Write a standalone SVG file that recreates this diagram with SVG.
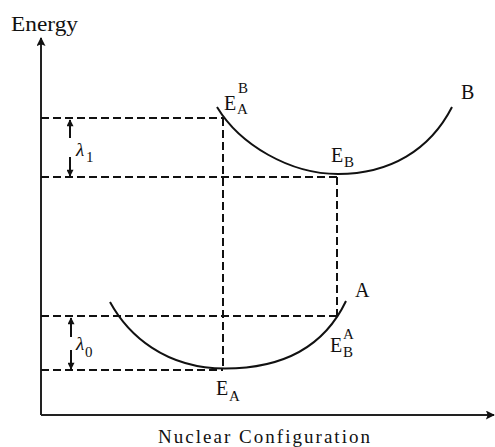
<svg xmlns="http://www.w3.org/2000/svg" width="495" height="447" viewBox="0 0 495 447">
<defs>
<style>
.lbl{font-size:20px}
.sub{font-size:15px}
.ax{stroke:#222;stroke-width:2;fill:none}
.dash{stroke:#111;stroke-width:2;stroke-dasharray:8 4;fill:none}
.curve{stroke:#111;stroke-width:2;fill:none}
.dim{stroke:#111;stroke-width:2;fill:none}
</style>
<marker id="ah" viewBox="0 0 10 10" refX="9" refY="5" markerWidth="6" markerHeight="4.5" orient="auto" markerUnits="strokeWidth"><path d="M0,0 L10,5 L0,10 L2,5 z" fill="#111"/></marker>
<marker id="ahs" viewBox="0 0 10 10" refX="9" refY="5" markerWidth="4" markerHeight="3.5" orient="auto" markerUnits="strokeWidth"><path d="M0,0 L10,5 L0,10 z" fill="#111"/></marker>
</defs>
<rect width="495" height="447" fill="#fff"/>
<g font-family="Liberation Serif, Times New Roman, DejaVu Serif, serif" fill="#111">
<g id="axes">
<line class="ax" x1="41" y1="415" x2="41" y2="38" marker-end="url(#ah)"/>
<line class="ax" x1="41" y1="415" x2="494" y2="415" marker-end="url(#ah)"/>
<text x="11" y="31" font-size="21" textLength="67" lengthAdjust="spacingAndGlyphs">Energy</text>
<text x="158" y="443" font-size="19" textLength="212" lengthAdjust="spacing">Nuclear Configuration</text>
</g>
<g id="connectors">
<line class="dash" x1="41" y1="118" x2="223" y2="118"/>
<line class="dash" x1="41" y1="177" x2="337" y2="177"/>
<line class="dash" x1="41" y1="316" x2="337" y2="316"/>
<line class="dash" x1="41" y1="370" x2="223" y2="370"/>
<line class="dash" x1="223" y1="118" x2="223" y2="370"/>
<line class="dash" x1="337" y1="177" x2="337" y2="316"/>
<line class="dim" x1="70" y1="138" x2="70" y2="120" marker-end="url(#ahs)"/>
<line class="dim" x1="70" y1="157" x2="70" y2="176" marker-end="url(#ahs)"/>
<line class="dim" x1="71" y1="337" x2="71" y2="318" marker-end="url(#ahs)"/>
<line class="dim" x1="71" y1="350" x2="71" y2="369" marker-end="url(#ahs)"/>
</g>
<g id="curveB">
<path class="curve" d="M217,107 C240,145 290,174 338,174 C390,174 430,150 452,107"/>
<text class="lbl" x="461" y="99">B</text>
</g>
<g id="curveA">
<path class="curve" d="M110,302 C128,335 165,368.5 225,368.5 C285,368.5 325,345 346,301"/>
<text class="lbl" x="355" y="297">A</text>
</g>
<g id="EAB">
<text class="lbl" x="224" y="110">E</text>
<text class="sub" x="237" y="114">A</text>
<text class="sub" x="238" y="93">B</text>
</g>
<g id="EB">
<text class="lbl" x="331" y="162">E</text>
<text class="sub" x="344" y="167">B</text>
</g>
<g id="EBA">
<text class="lbl" x="330" y="352">E</text>
<text class="sub" x="343" y="357">B</text>
<text class="sub" x="343" y="339">A</text>
</g>
<g id="EA">
<text class="lbl" x="216" y="395">E</text>
<text class="sub" x="229" y="401">A</text>
</g>
<g id="lambda1">
<text x="76" y="156" font-size="19" font-style="italic">λ</text>
<text class="sub" x="86" y="162">1</text>
</g>
<g id="lambda0">
<text x="76" y="350" font-size="19" font-style="italic">λ</text>
<text class="sub" x="85" y="357">0</text>
</g>
</g>
</svg>
